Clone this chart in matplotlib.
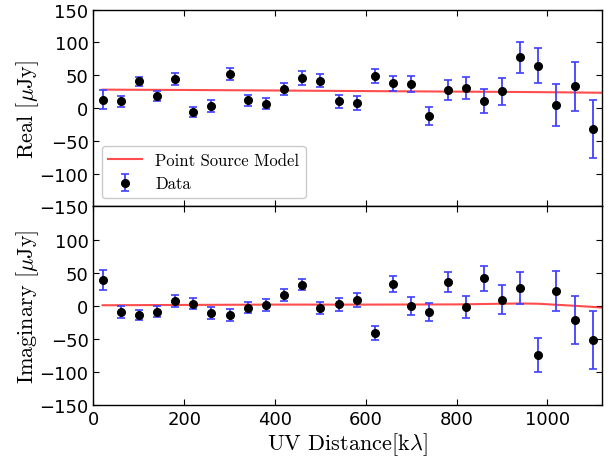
import matplotlib
matplotlib.use("Agg")
import matplotlib.pyplot as plt

# ---- data ----
uv_dist = [20, 60, 100, 140, 180, 220, 260, 300, 340, 380, 420, 460, 500, 540,
           580, 620, 660, 700, 740, 780, 820, 860, 900, 940, 980, 1020, 1060, 1100]
real_vals = [12.7, 10.2, 40.6, 18.3, 44.2, -6.0, 3.0, 51.8, 11.7, 6.6, 29.4, 45.7, 41.6, 10.2,
             7.6, 49.2, 38.0, 36.5, -12.2, 27.9, 30.5, 10.7, 25.4, 77.2, 64.5, 4.6, 33.0, -32.5]
real_err = [14.7, 8.6, 7.0, 8.0, 9.0, 8.0, 9.0, 9.0, 8.6, 8.6, 9.4, 10.0, 10.0, 10.0,
            10.0, 10.7, 11.4, 12.0, 13.7, 15.0, 16.7, 18.5, 21.0, 24.0, 27.0, 31.5, 37.0, 44.0]
imag_vals = [38.5, -10.1, -14.2, -9.1, 7.1, 3.0, -11.7, -14.2, -3.0, 1.0, 16.7, 31.9, -4.0, 2.0,
             8.6, -41.5, 32.4, -0.5, -10.1, 36.0, -2.5, 41.0, 8.6, 26.8, -74.5, 22.3, -21.8, -52.2]
imag_err = [15.0, 9.0, 7.6, 8.4, 8.6, 8.0, 8.9, 8.6, 8.6, 8.6, 9.0, 9.0, 9.0, 9.6,
            10.0, 10.6, 12.0, 13.0, 13.7, 15.0, 17.0, 18.6, 21.8, 24.0, 26.0, 30.6, 36.5, 43.8]

model_uv = [20, 200, 400, 600, 800, 900, 940, 980, 1020, 1060, 1100, 1140]
model_real = [28.0, 27.5, 26.7, 25.8, 25.0, 24.6, 24.4, 24.2, 24.0, 23.7, 23.4, 23.1]
model_imag = [0.5, 1.0, 1.5, 1.5, 1.8, 2.8, 3.2, 2.8, 1.2, -0.3, -2.0, -4.0]

xticks = [0, 200, 400, 600, 800, 1000]
yticks_top = [-150, -100, -50, 0, 50, 100, 150]
yticks_bottom = [-150, -100, -50, 0, 50, 100]

plt.rcParams['mathtext.fontset'] = 'cm'
plt.rcParams['font.size'] = 12

fig = plt.figure(figsize=(6.11, 4.60), dpi=100)
left, right = 0.153, 0.985
ax1 = fig.add_axes([left, 0.549, right - left, 0.428])
ax2 = fig.add_axes([left, 0.118, right - left, 0.431], sharex=ax1)

label_font = dict(fontfamily='cmr10', fontsize=16)

for ax, vals, errs, mvals, yt in [(ax1, real_vals, real_err, model_real, yticks_top),
                                  (ax2, imag_vals, imag_err, model_imag, yticks_bottom)]:
    ax.plot(model_uv, mvals, color='red', alpha=0.7, lw=1.5, label='Point Source Model')
    ax.errorbar(uv_dist, vals, yerr=errs, fmt='o', color='black', ms=5.5,
                ecolor=(0.25, 0.25, 1.0), elinewidth=1.3, capsize=3, capthick=1.2,
                label='Data')
    ax.set_ylim(-150, 150)
    ax.set_yticks(yt)
    ax.set_xlim(0, 1120)
    ax.set_xticks(xticks)
    ax.tick_params(direction='in', top=True, right=True, length=4, labelsize=13)
    for s in ax.spines.values():
        s.set_linewidth(1.0)

plt.setp(ax1.get_xticklabels(), visible=False)
ax1.set_ylabel(r'Real [$\mu$Jy]', **label_font)
ax2.set_ylabel(r'Imaginary [$\mu$Jy]', **label_font)
ax2.set_xlabel(r'UV Distance[k$\lambda$]', labelpad=2, **label_font)
ax1.yaxis.set_label_coords(-0.103, 0.5)
ax2.yaxis.set_label_coords(-0.103, 0.5)

leg = ax1.legend(loc='lower left', numpoints=1, prop={'family': 'cmr10', 'size': 12},
                 fancybox=True, framealpha=0.8, edgecolor='0.75', borderpad=0.4,
                 handlelength=2.0)

fig.savefig('out.png', dpi=100)
